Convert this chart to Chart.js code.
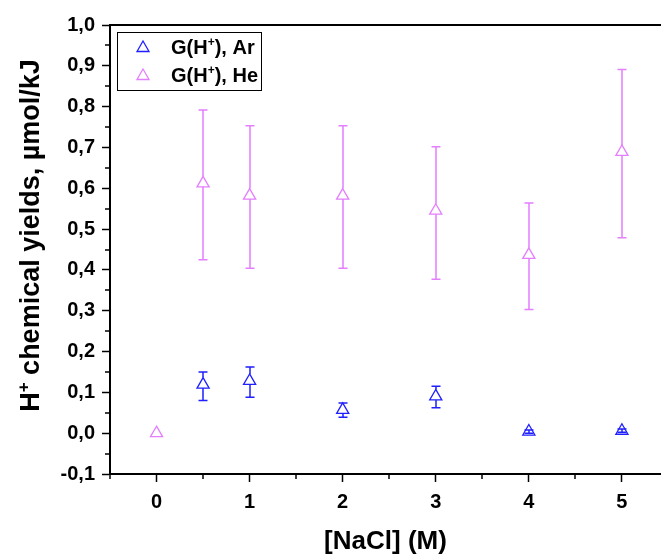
<!DOCTYPE html>
<html>
<head>
<meta charset="utf-8">
<script src="https://cdn.jsdelivr.net/npm/chart.js@4"></script>
<style>
  html, body { margin: 0; padding: 0; background: #fff; }
  #wrap { width: 661px; height: 556px; }
</style>
</head>
<body>
<div id="wrap"><canvas id="chart"></canvas></div>
<script>
// values
const naclAr = [0.5, 1, 2, 3, 4, 5];
const yieldAr = [0.119, 0.128, 0.057, 0.090, 0.004, 0.006];
const arLow = [0.080, 0.088, 0.039, 0.062, 0.000, 0.002];
const arHigh = [0.150, 0.162, 0.074, 0.115, 0.008, 0.010];

const naclHe = [0, 0.5, 1, 2, 3, 4, 5];
const yieldHe = [0.000, 0.612, 0.582, 0.582, 0.545, 0.437, 0.689];
const heLow = [null, 0.425, 0.404, 0.404, 0.377, 0.303, 0.479];
const heHigh = [null, 0.792, 0.753, 0.753, 0.702, 0.564, 0.891];

const xTicks = [0, 1, 2, 3, 4, 5];
const xMinorTicks = [-0.5, 0.5, 1.5, 2.5, 3.5, 4.5];
const yTicks = [-0.1, 0, 0.1, 0.2, 0.3, 0.4, 0.5, 0.6, 0.7, 0.8, 0.9, 1.0];
const yMinorTicks = [-0.05, 0.05, 0.15, 0.25, 0.35, 0.45, 0.55, 0.65, 0.75, 0.85, 0.95];

const xTitle = '[NaCl] (M)';
const yTitle = ['H', '+', ' chemical yields, µmol/kJ'];
const labelAr = ['G(H', '+', '), Ar'];
const labelHe = ['G(H', '+', '), He'];

const colors = {
    ar: '#1f1fff',
    he: '#e47eff',
    axis: '#000000'
};
const FONT = '"Liberation Sans", Arial, sans-serif';
const MARKER_R = 7;

// draws text parts, odd parts as superscript
function richWidth(ctx, parts, size) {
    let w = 0;
    parts.forEach((p, i) => {
        ctx.font = `bold ${i % 2 ? Math.round(size * 0.62) : size}px ${FONT}`;
        w += ctx.measureText(p).width;
    });
    return w;
}
function drawRich(ctx, parts, x, y, size) {
    ctx.textBaseline = 'alphabetic';
    ctx.textAlign = 'left';
    let cx = x;
    parts.forEach((p, i) => {
        const sup = i % 2 === 1;
        ctx.font = `bold ${sup ? Math.round(size * 0.62) : size}px ${FONT}`;
        ctx.fillText(p, cx, sup ? y - size * 0.38 : y);
        cx += ctx.measureText(p).width;
    });
}

// error bars, line hidden behind the marker unless the bar is shorter than it
const errorBars = {
    id: 'errorBars',
    afterDatasetsDraw(chart) {
        const { ctx, scales: { x, y } } = chart;
        chart.data.datasets.forEach(ds => {
            ctx.save();
            ctx.strokeStyle = ds.borderColor;
            ctx.lineWidth = 1.5;
            ds.data.forEach((p, i) => {
                const lo = ds.errLow[i], hi = ds.errHigh[i];
                if (lo == null) return;
                const px = Math.round(x.getPixelForValue(p.x));
                const py = y.getPixelForValue(p.y);
                const y1 = y.getPixelForValue(lo);
                const y2 = y.getPixelForValue(hi);
                const apex = py - MARKER_R, base = py + MARKER_R / 2;
                ctx.beginPath();
                if (y2 < apex || y1 > base) {
                    if (y2 < apex) { ctx.moveTo(px, y2); ctx.lineTo(px, apex); }
                    if (y1 > base) { ctx.moveTo(px, base); ctx.lineTo(px, y1); }
                } else {
                    ctx.moveTo(px, y1); ctx.lineTo(px, y2);
                }
                ctx.moveTo(px - 4.5, y1); ctx.lineTo(px + 4.5, y1);
                ctx.moveTo(px - 4.5, y2); ctx.lineTo(px + 4.5, y2);
                ctx.stroke();
            });
            ctx.restore();
        });
    }
};

const frame = {
    id: 'frame',
    afterDraw(chart) {
        const { ctx, chartArea: a, scales: { x, y } } = chart;
        ctx.save();
        ctx.strokeStyle = colors.axis;
        // top border
        ctx.lineWidth = 2;
        ctx.beginPath();
        ctx.moveTo(a.left - 1, a.top);
        ctx.lineTo(a.right, a.top);
        ctx.stroke();
        // minor ticks
        ctx.lineWidth = 1.5;
        ctx.beginPath();
        xMinorTicks.forEach(v => {
            const px = Math.round(x.getPixelForValue(v));
            ctx.moveTo(px, a.bottom); ctx.lineTo(px, a.bottom + 5);
        });
        yMinorTicks.forEach(v => {
            const py = Math.round(y.getPixelForValue(v));
            ctx.moveTo(a.left, py); ctx.lineTo(a.left - 5, py);
        });
        ctx.stroke();

        // y title
        ctx.fillStyle = '#000';
        const ts = 27;
        ctx.save();
        ctx.translate(39, (a.top + a.bottom) / 2 - 14);
        ctx.rotate(-Math.PI / 2);
        const tw = richWidth(ctx, yTitle, ts);
        drawRich(ctx, yTitle, -tw / 2, 0, ts);
        ctx.restore();

        // legend
        ctx.lineWidth = 1;
        ctx.strokeRect(117.5, 32.5, 144, 58);
        [[labelAr, colors.ar, 47], [labelHe, colors.he, 75]].forEach(([parts, col, ly]) => {
            ctx.strokeStyle = col;
            ctx.lineWidth = 1.3;
            ctx.beginPath();
            ctx.moveTo(143, ly - 6);
            ctx.lineTo(149, ly + 4.5);
            ctx.lineTo(137, ly + 4.5);
            ctx.closePath();
            ctx.stroke();
            ctx.fillStyle = '#000';
            drawRich(ctx, parts, 171, ly + 7, 20);
        });
        ctx.restore();
    }
};

const ctx = document.getElementById('chart').getContext('2d');
new Chart(ctx, {
    type: 'scatter',
    data: {
        datasets: [
            {
                label: labelHe.join(''),
                data: naclHe.map((v, i) => ({ x: v, y: yieldHe[i] })),
                errLow: heLow,
                errHigh: heHigh,
                borderColor: colors.he,
                backgroundColor: '#ffffff',
                pointStyle: 'triangle',
                pointRadius: MARKER_R,
                pointBorderWidth: 1.3
            },
            {
                label: labelAr.join(''),
                data: naclAr.map((v, i) => ({ x: v, y: yieldAr[i] })),
                errLow: arLow,
                errHigh: arHigh,
                borderColor: colors.ar,
                backgroundColor: '#ffffff',
                pointStyle: 'triangle',
                pointRadius: MARKER_R,
                pointBorderWidth: 1.3
            }
        ]
    },
    options: {
        responsive: true,
        maintainAspectRatio: false,
        animation: false,
        layout: { autoPadding: false, padding: { top: 25, left: 0, right: 0, bottom: 0 } },
        plugins: {
            legend: { display: false },
            tooltip: { enabled: false }
        },
        scales: {
            x: {
                type: 'linear',
                min: -0.5,
                max: 5.42,
                afterBuildTicks: axis => { axis.ticks = xTicks.map(v => ({ value: v })); },
                afterFit: axis => {
                    axis.height = 82;
                    axis.paddingLeft = 0;
                    axis.paddingRight = 0;
                },
                border: { color: colors.axis, width: 2 },
                grid: { drawOnChartArea: false, color: colors.axis, tickLength: 8, tickWidth: 1.5 },
                ticks: {
                    color: '#000',
                    padding: 8,
                    maxRotation: 0,
                    font: { family: FONT, size: 20, weight: 'bold' },
                    callback: v => String(v)
                },
                title: {
                    display: true,
                    text: xTitle,
                    color: '#000',
                    font: { family: FONT, size: 26, weight: 'bold', lineHeight: 1 },
                    padding: { top: 0, bottom: 1 }
                }
            },
            y: {
                type: 'linear',
                min: -0.1,
                max: 1.0,
                afterBuildTicks: axis => { axis.ticks = yTicks.map(v => ({ value: v })); },
                afterFit: axis => { axis.width = 110; },
                border: { color: colors.axis, width: 2 },
                grid: { drawOnChartArea: false, color: colors.axis, tickLength: 8, tickWidth: 1.5 },
                ticks: {
                    color: '#000',
                    padding: 7,
                    font: { family: FONT, size: 20, weight: 'bold' },
                    callback: v => v.toFixed(1).replace('.', ',')
                }
            }
        }
    },
    plugins: [errorBars, frame]
});
</script>
</body>
</html>
